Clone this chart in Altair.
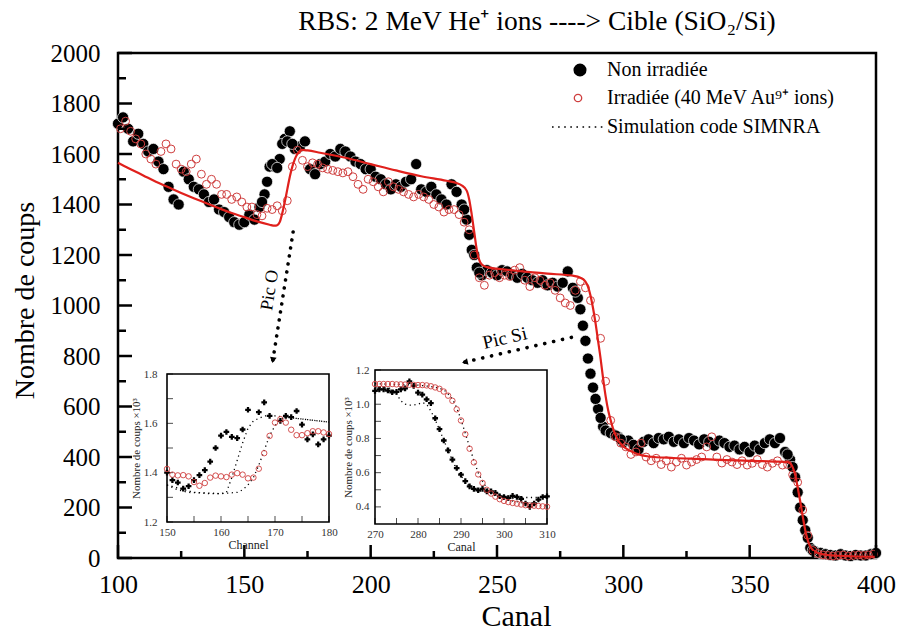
import altair as alt
import pandas as pd

FONT = "Liberation Serif"
RED_LINE = "#e0201c"
RED_PT = "#cf3f3f"
W, H = 758, 505

# ---------------- main RBS spectrum ----------------
canal_non = list(range(100, 401, 2))
coups_non = [
    1720, 1745, 1700, 1650, 1680, 1640, 1610, 1620, 1570, 1540,
    1470, 1420, 1400, 1530, 1500, 1470, 1460, 1440, 1410, 1420,
    1380, 1370, 1350, 1330, 1320, 1330, 1360, 1340, 1390, 1440,
    1550, 1550, 1580, 1660, 1690, 1620, 1630, 1650, 1540, 1520,
    1560, 1570, 1600, 1590, 1620, 1610, 1590, 1570, 1560, 1540,
    1540, 1510, 1500, 1480, 1460, 1480, 1470, 1490, 1500, 1560,
    1460, 1450, 1470, 1440, 1420, 1400, 1480, 1450, 1400, 1340,
    1220, 1150, 1120, 1140, 1130, 1120, 1140, 1135, 1120, 1110,
    1125, 1110, 1100, 1090, 1100, 1080, 1090, 1075, 1090, 1135,
    1070, 1030, 920, 790, 675, 590, 520, 500, 490, 480,
    458, 465, 448, 430, 460, 470, 455, 475, 470, 480,
    460, 470, 455, 475, 465, 450, 470, 460, 445, 465,
    455, 440, 445, 430, 440, 420, 445, 430, 455, 470,
    455, 475, 420, 390, 320, 200, 110, 40, 25, 20,
    15, 12, 10, 15, 10, 8, 12, 10, 10, 15,
    20,
]
# extra odd channels on the steep edges of the unirradiated spectrum
canal_non_edges = [157, 159, 161, 163, 165, 167, 169, 237, 239, 241, 243,
                   281, 283, 285, 287, 289, 291, 293, 295, 297, 299,
                   365, 367, 369, 371, 373, 375]
coups_non_edges = [1410, 1490, 1560, 1545, 1640, 1650, 1640, 1380, 1280, 1200, 1130,
                   1055, 985, 860, 730, 630, 555, 505, 495, 485, 470,
                   410, 360, 260, 150, 80, 30]

canal_irr = list(range(101, 400, 2))
coups_irr = [
    1700, 1730, 1690, 1660, 1640, 1600, 1580, 1560, 1610, 1640,
    1620, 1560, 1540, 1530, 1560, 1580, 1520, 1480, 1500, 1480,
    1440, 1440, 1420, 1430, 1410, 1390, 1390, 1360, 1355, 1385,
    1380, 1395, 1375, 1415, 1550, 1615, 1575, 1550, 1565, 1560,
    1545, 1540, 1535, 1530, 1525, 1530, 1510, 1480, 1460, 1500,
    1490, 1470, 1450, 1490, 1470, 1460, 1450, 1440, 1430, 1440,
    1430, 1420, 1400, 1390, 1370, 1380, 1380, 1360, 1330, 1300,
    1200, 1110, 1080, 1120, 1130, 1110, 1120, 1115, 1140, 1150,
    1100, 1075, 1110, 1100, 1080, 1090, 1060, 1030, 1010, 1000,
    1060, 1095, 1070, 1020, 950, 870, 700, 545, 480, 455,
    440, 410, 420, 455, 400, 385, 395, 370, 385, 360,
    380, 395, 368, 380, 390, 400, 440, 480, 400, 376,
    390, 380, 370, 385, 368, 375, 390, 370, 360, 375,
    385, 368, 370, 330, 300, 190, 90, 30, 18, 12,
    10, 8, 10, 12, 8, 10, 12, 10, 12, 15,
]

sim_canal = [100, 105, 110, 115, 120, 125, 130, 135, 140, 145, 150, 155, 160, 162,
             163, 164, 165, 166, 167, 168, 169, 170, 171, 172, 173, 175, 180, 190,
             200, 210, 220, 230, 234, 236, 238, 239, 240, 241, 242, 243, 244, 246,
             250, 260, 270, 280, 283, 285, 286, 287, 288, 289, 290, 291, 292, 293,
             294, 295, 296, 297, 298, 300, 302, 305, 310, 320, 330, 340, 350, 360,
             365, 366, 367, 368, 369, 370, 371, 372, 373, 374, 375, 377, 380, 385,
             390, 400]
sim_coups = [1565, 1540, 1515, 1490, 1468, 1446, 1425, 1405, 1385, 1366, 1350, 1333, 1320, 1316,
             1318, 1330, 1365, 1410, 1460, 1510, 1550, 1580, 1600, 1612, 1616, 1614, 1605, 1585,
             1560, 1535, 1512, 1494, 1485, 1476, 1455, 1420, 1360, 1290, 1220, 1180, 1162, 1152,
             1146, 1135, 1126, 1118, 1110, 1095, 1075, 1040, 990, 930, 860, 790, 710, 640,
             585, 545, 510, 485, 465, 442, 428, 414, 402, 396, 392, 388, 385, 382,
             380, 375, 360, 330, 280, 225, 165, 110, 70, 45, 32, 20, 13, 9,
             7, 5]

x_major = [100, 150, 200, 250, 300, 350, 400]
x_minor = [125, 175, 225, 275, 325, 375]
y_major = [0, 200, 400, 600, 800, 1000, 1200, 1400, 1600, 1800, 2000]
y_minor = [100, 300, 500, 700, 900, 1100, 1300, 1500, 1700, 1900]

legend_labels = ["Non irradiée", "Irradiée (40 MeV Au⁹⁺ ions)", "Simulation code SIMNRA"]
title_text = "RBS: 2 MeV He⁺ ions ----> Cible (SiO₂/Si)"

# annotation arrows (canal, coups): start -> head
pic_o_canal = [169.3, 161.3]
pic_o_coups = [1291, 784]
pic_si_canal = [280.0, 237.3]
pic_si_coups = [875, 776]

# ---------------- inset: oxygen peak ----------------
ins1_xdom = [150, 180]
ins1_ydom = [1.2, 1.8]
ins1_canal_non = [150, 151, 152, 153, 154, 155, 156, 157, 158, 159, 160, 161, 162, 163,
                  164, 165, 167, 168, 169, 171, 172, 173, 174, 175, 176, 177, 178, 179, 180]
ins1_coups_non = [1.40, 1.37, 1.36, 1.335, 1.345, 1.37, 1.39, 1.41, 1.445, 1.50, 1.55, 1.565,
                  1.545, 1.54, 1.575, 1.655, 1.645, 1.685, 1.63, 1.61, 1.63, 1.625, 1.65,
                  1.595, 1.535, 1.555, 1.515, 1.535, 1.55]
ins1_canal_irr = list(range(150, 181))
ins1_coups_irr = [1.415, 1.392, 1.389, 1.390, 1.385, 1.362, 1.347, 1.358, 1.380, 1.388,
                  1.385, 1.382, 1.392, 1.398, 1.392, 1.377, 1.380, 1.416, 1.479, 1.549,
                  1.603, 1.617, 1.603, 1.574, 1.552, 1.552, 1.560, 1.568, 1.568, 1.563, 1.557]
ins1_sim_a_canal = [150, 152, 154, 156, 158, 160, 161, 162, 163, 164, 165, 166, 168, 170,
                    172, 174, 176, 178, 180]
ins1_sim_a_coups = [1.35, 1.33, 1.32, 1.318, 1.315, 1.315, 1.32, 1.38, 1.45, 1.52, 1.58,
                    1.61, 1.63, 1.63, 1.625, 1.62, 1.615, 1.61, 1.605]
ins1_sim_b_canal = [150, 155, 160, 163, 164, 165, 166, 167, 168, 169, 170, 171, 172, 176, 180]
ins1_sim_b_coups = [1.35, 1.32, 1.315, 1.32, 1.33, 1.35, 1.38, 1.43, 1.49, 1.55, 1.59,
                    1.615, 1.625, 1.615, 1.605]
ins1_xticks = [150, 155, 160, 165, 170, 175, 180]
ins1_yticks = [1.2, 1.3, 1.4, 1.5, 1.6, 1.7, 1.8]

# ---------------- inset: silicon edge ----------------
ins2_xdom = [270, 310]
ins2_ydom = [0.3, 1.2]
ins2_canal = list(range(270, 311))
ins2_coups_non = [1.078, 1.087, 1.087, 1.080, 1.070, 1.072, 1.087, 1.093, 1.134, 1.107,
                  1.068, 1.056, 1.029, 1.006, 0.918, 0.854, 0.788, 0.730, 0.676, 0.627,
                  0.588, 0.551, 0.520, 0.505, 0.497, 0.505, 0.491, 0.491, 0.482, 0.462,
                  0.458, 0.452, 0.464, 0.458, 0.447, 0.420, 0.400, 0.420, 0.443, 0.458, 0.462]
ins2_coups_irr = [1.118, 1.118, 1.118, 1.118, 1.118, 1.116, 1.116, 1.115, 1.114, 1.113,
                  1.112, 1.112, 1.110, 1.105, 1.098, 1.090, 1.074, 1.050, 1.020, 0.970,
                  0.905, 0.825, 0.740, 0.660, 0.590, 0.540, 0.500, 0.478, 0.460, 0.445,
                  0.435, 0.428, 0.423, 0.419, 0.414, 0.410, 0.408, 0.407, 0.405, 0.403, 0.401]
ins2_sim_a_canal = [270, 272, 274, 275, 276, 277, 278, 279, 280, 281, 282, 283, 284, 285,
                    286, 287, 288, 289, 290, 291, 292, 293, 294, 296, 298, 300, 302, 304,
                    306, 308, 310]
ins2_sim_a_coups = [1.10, 1.10, 1.09, 1.06, 1.02, 1.0, 0.995, 0.995, 1.0, 1.01, 1.0, 0.96,
                    0.91, 0.85, 0.79, 0.73, 0.67, 0.62, 0.58, 0.55, 0.52, 0.505, 0.495,
                    0.49, 0.48, 0.465, 0.46, 0.455, 0.455, 0.455, 0.455]
ins2_sim_b_canal = [270, 280, 284, 286, 287, 288, 289, 290, 291, 292, 293, 294, 295, 296,
                    297, 298, 300, 304, 310]
ins2_sim_b_coups = [1.12, 1.112, 1.10, 1.085, 1.06, 1.03, 0.98, 0.91, 0.83, 0.75, 0.67,
                    0.60, 0.55, 0.51, 0.485, 0.465, 0.445, 0.425, 0.405]
ins2_xticks = [270, 275, 280, 285, 290, 295, 300, 305, 310]
ins2_yticks = [0.4, 0.5, 0.6, 0.7, 0.8, 0.9, 1.0, 1.1, 1.2]


def xy_frame(c, v):
    return pd.DataFrame({"canal": c, "coups": v})


# ---------------- main panel ----------------
mx_scale = alt.Scale(domain=[100, 400], nice=False, zero=False)
my_scale = alt.Scale(domain=[0, 2000], nice=False, zero=False)
mx_axis = alt.Axis(values=x_major, format="d", orient="bottom", labelFont=FONT,
                   labelFontSize=26, labelColor="black", labelPadding=13, ticks=False,
                   tickSize=0, domain=False, grid=False, labelFlush=False,
                   labelOverlap=False, title="Canal", titleFont=FONT,
                   titleFontSize=30, titleFontWeight="normal", titleColor="black",
                   titleX=398, titleY=58, titleBaseline="middle", titleAlign="center")
my_axis = alt.Axis(values=y_major, format="d", orient="left", labelFont=FONT,
                   labelFontSize=25, labelColor="black", labelPadding=18, ticks=False,
                   tickSize=0, domain=False, grid=False, labelFlush=False,
                   labelOverlap=False, title="Nombre de coups",
                   titleFont=FONT, titleFontSize=28, titleFontWeight="normal",
                   titleColor="black", titleX=-93, titleY=247, titleAngle=270,
                   titleBaseline="middle", titleAlign="center")
MX = alt.X("canal:Q", scale=mx_scale, axis=mx_axis)
MY = alt.Y("coups:Q", scale=my_scale, axis=my_axis)

pts_non = alt.Chart(xy_frame(canal_non + canal_non_edges, coups_non + coups_non_edges)).mark_circle(
    size=125, color="black", opacity=1, stroke="white", strokeWidth=0.7
).encode(x=MX, y=MY)
pts_irr = alt.Chart(xy_frame(canal_irr, coups_irr)).mark_point(
    shape="circle", size=62, color=RED_PT, strokeWidth=1, filled=False, opacity=1
).encode(x=MX, y=MY)
sim_line = alt.Chart(xy_frame(sim_canal, sim_coups)).mark_line(
    color=RED_LINE, strokeWidth=2.2, interpolate="monotone"
).encode(x=MX, y=MY)

xt_major = alt.Chart(pd.DataFrame({"canal": x_major})).mark_rule(
    color="black", strokeWidth=2.5).encode(x=MX, y=alt.value(H), y2=alt.value(H - 13))
xt_minor = alt.Chart(pd.DataFrame({"canal": x_minor})).mark_rule(
    color="black", strokeWidth=2.5).encode(x=MX, y=alt.value(H), y2=alt.value(H - 7))
yt_major = alt.Chart(pd.DataFrame({"coups": y_major})).mark_rule(
    color="black", strokeWidth=2.5).encode(y=MY, x=alt.value(0), x2=alt.value(14))
yt_minor = alt.Chart(pd.DataFrame({"coups": y_minor})).mark_rule(
    color="black", strokeWidth=2.5).encode(y=MY, x=alt.value(0), x2=alt.value(8))

# dotted arrows with their labels
arrow_o = alt.Chart(xy_frame(pic_o_canal, pic_o_coups)).mark_line(
    color="black", strokeWidth=3.6, strokeDash=[0.1, 8], strokeCap="round"
).encode(x=MX, y=MY)
arrow_si = alt.Chart(xy_frame(pic_si_canal, pic_si_coups)).mark_line(
    color="black", strokeWidth=3.6, strokeDash=[0.1, 9], strokeCap="round"
).encode(x=MX, y=MY)
head_o = alt.Chart(xy_frame(pic_o_canal[1:], pic_o_coups[1:])).mark_point(
    shape="triangle-up", filled=True, size=45, color="black", angle=189, opacity=1
).encode(x=MX, y=MY)
head_si = alt.Chart(xy_frame(pic_si_canal[1:], pic_si_coups[1:])).mark_point(
    shape="triangle-up", filled=True, size=45, color="black", angle=257, opacity=1
).encode(x=MX, y=MY)
lab_o = alt.Chart(pd.DataFrame({"canal": [160.2], "coups": [1061], "t": ["Pic O"]})).mark_text(
    font=FONT, fontSize=18, angle=279, color="black"
).encode(x=MX, y=MY, text="t:N")
lab_si = alt.Chart(pd.DataFrame({"canal": [253.1], "coups": [871], "t": ["Pic Si"]})).mark_text(
    font=FONT, fontSize=19, angle=347, color="black"
).encode(x=MX, y=MY, text="t:N")

# title and legend
title = alt.Chart(pd.DataFrame({"t": [title_text]})).mark_text(
    font=FONT, fontSize=27.5, color="black", baseline="middle", align="center"
).encode(text="t:N", x=alt.value(419), y=alt.value(-31))

leg_rows = [17, 45, 74]
leg_non = alt.Chart(pd.DataFrame({"t": ["a"]})).mark_circle(
    size=170, color="black", opacity=1).encode(x=alt.value(462), y=alt.value(leg_rows[0]))
leg_irr = alt.Chart(pd.DataFrame({"t": ["b"]})).mark_point(
    shape="circle", size=55, color=RED_PT, strokeWidth=1.3, filled=False, opacity=1
).encode(x=alt.value(460), y=alt.value(leg_rows[1]))
leg_sim = alt.Chart(pd.DataFrame({"t": ["c"]})).mark_rule(
    color="black", strokeWidth=1.6, strokeDash=[1.6, 4.5]
).encode(x=alt.value(434), x2=alt.value(487), y=alt.value(leg_rows[2]))
leg_text = [
    alt.Chart(pd.DataFrame({"t": [lab]})).mark_text(
        font=FONT, fontSize=20, color="black", align="left", baseline="middle"
    ).encode(text="t:N", x=alt.value(489), y=alt.value(row))
    for lab, row in zip(legend_labels, leg_rows)
]

main = alt.layer(
    pts_non, pts_irr, sim_line, xt_major, xt_minor, yt_major, yt_minor,
    arrow_o, arrow_si, head_o, head_si, lab_o, lab_si, title,
    leg_non, leg_irr, leg_sim, *leg_text,
)


# ---------------- insets ----------------
def inset(xdom, ydom, xrange, yrange, xvals, yvals, xtitle, xoff, yoff, ypad,
          non, irr, sims, xticks, yticks):
    xs = alt.Scale(domain=xdom, range=xrange, nice=False, zero=False)
    ys = alt.Scale(domain=ydom, range=yrange, nice=False, zero=False)
    xa = alt.Axis(orient="bottom", offset=xoff, values=xvals, format="d", labelFont=FONT,
                  labelFontSize=11, labelColor="#333333", labelPadding=4, ticks=False,
                  tickSize=0, domain=False, grid=False, labelFlush=False,
                  labelOverlap=False, title=xtitle, titleFont=FONT,
                  titleFontSize=12, titleFontWeight="normal", titleColor="#222222",
                  titlePadding=2, zindex=2)
    ya = alt.Axis(orient="left", offset=yoff, values=yvals, format=".1f", labelFont=FONT,
                  labelFontSize=11, labelColor="#333333", labelPadding=ypad, ticks=False,
                  tickSize=0, domain=False, grid=False, labelFlush=False,
                  labelOverlap=False, title="Nombre de coups ×10³",
                  titleFont=FONT, titleFontSize=11, titleFontWeight="normal",
                  titleColor="#222222", titlePadding=2, zindex=2)
    X = alt.X("canal:Q", scale=xs, axis=xa)
    Y = alt.Y("coups:Q", scale=ys, axis=ya)
    frame = alt.Chart(pd.DataFrame({"canal": [xdom[0]], "c2": [xdom[1]],
                                    "coups": [ydom[0]], "v2": [ydom[1]]})).mark_rect(
        fill="white", stroke="black", strokeWidth=1.6
    ).encode(x=X, x2="c2:Q", y=Y, y2="v2:Q")
    tx = alt.Chart(pd.DataFrame({"canal": xticks, "coups": [ydom[0]] * len(xticks)})).mark_tick(
        orient="vertical", size=6, thickness=1, yOffset=-3, color="black"
    ).encode(x=X, y=Y)
    ty = alt.Chart(pd.DataFrame({"canal": [xdom[0]] * len(yticks), "coups": yticks})).mark_tick(
        orient="horizontal", size=6, thickness=1, xOffset=3, color="black"
    ).encode(x=X, y=Y)
    sim_layers = [
        alt.Chart(xy_frame(c, v)).mark_line(
            color="black", strokeWidth=1.3, strokeDash=[1.2, 3.5]
        ).encode(x=X, y=Y)
        for c, v in sims
    ]
    p_non = alt.Chart(xy_frame(*non)).mark_point(
        shape="cross", filled=True, size=32, color="black", opacity=1
    ).encode(x=X, y=Y)
    p_irr = alt.Chart(xy_frame(*irr)).mark_point(
        shape="circle", size=30, color=RED_PT, strokeWidth=0.9, filled=False, opacity=1
    ).encode(x=X, y=Y)
    return alt.layer(frame, tx, ty, *sim_layers, p_non, p_irr)


inset_o = inset(ins1_xdom, ins1_ydom, [49, 211], [469, 321], [150, 160, 170, 180],
                [1.2, 1.4, 1.6, 1.8], "Channel", -36, -49, 10,
                (ins1_canal_non, ins1_coups_non), (ins1_canal_irr, ins1_coups_irr),
                [(ins1_sim_a_canal, ins1_sim_a_coups), (ins1_sim_b_canal, ins1_sim_b_coups)],
                ins1_xticks, ins1_yticks)
inset_si = inset(ins2_xdom, ins2_ydom, [257, 429], [471, 317], [270, 280, 290, 300, 310],
                 [0.4, 0.6, 0.8, 1.0, 1.2], "Canal", -34, -257, 6,
                 (ins2_canal, ins2_coups_non), (ins2_canal, ins2_coups_irr),
                 [(ins2_sim_a_canal, ins2_sim_a_coups), (ins2_sim_b_canal, ins2_sim_b_coups)],
                 ins2_xticks, ins2_yticks)

chart = alt.layer(main, inset_o, inset_si).resolve_scale(
    x="independent", y="independent"
).properties(
    width=W, height=H,
    autosize=alt.AutoSizeParams(type="none"),
    padding={"left": 118, "top": 53, "right": 25, "bottom": 77},
    background="white",
).configure_view(stroke="black", strokeWidth=2.5).configure_axis(grid=False)

chart.save("out.html", embed_options={"renderer": "svg", "actions": False})
